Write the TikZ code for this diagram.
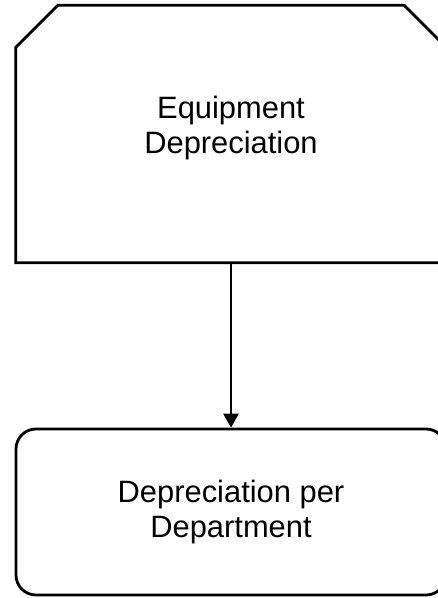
\documentclass[tikz,border=0pt]{standalone}
\usepackage{fontspec}
\setmainfont{Liberation Sans}
\usepackage{tikz}
\usetikzlibrary{arrows.meta}
\definecolor{ink}{HTML}{000000}
\tikzset{
  edge/.style={draw=ink, line width=2.8bp},
  box/.style={align=center, font=\fontsize{31}{35}\selectfont, inner sep=0pt,
    minimum width=430bp},
  cutbox/.style={box, minimum height=257bp, text depth=19bp},
  roundbox/.style={box, edge, rounded corners=20bp, minimum height=166bp},
  flow/.style={edge, -{Triangle[length=14bp,width=15bp]}},
}

\begin{document}
\begin{tikzpicture}[x=1bp, y=-1bp]
\useasboundingbox (0,0) rectangle (438,598);
\node[cutbox] (equip) at (231,134) {Equipment\\Depreciation};
\node[roundbox] (dept) at (231,512) {Depreciation per\\Department};
% top corners cut off
\draw[edge] (equip.south west) -- ([yshift=-42bp]equip.north west)
  -- ([xshift=42bp]equip.north west) -- ([xshift=-42bp]equip.north east)
  -- ([yshift=-42bp]equip.north east) -- (equip.south east) -- cycle;
\draw[flow] (equip) -- (dept);
\end{tikzpicture}
\end{document}
